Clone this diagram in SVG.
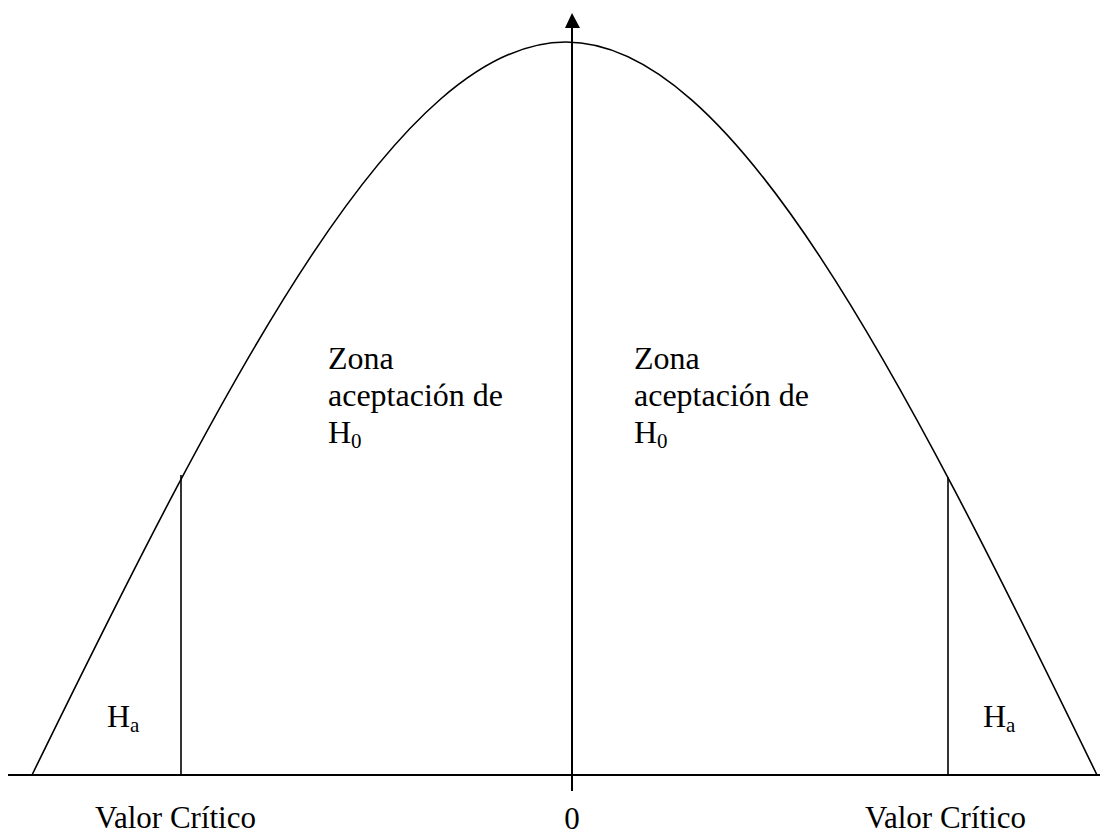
<svg xmlns="http://www.w3.org/2000/svg" width="1107" height="834" viewBox="0 0 1107 834">
<style>
.ln{stroke:#000;fill:none;stroke-width:1.6}
.ax{stroke:#000;fill:none;stroke-width:2}
.t{font-family:"Liberation Serif","Times New Roman",serif;font-size:32px;fill:#000}
.v{font-family:"Liberation Serif","Times New Roman",serif;font-size:31px;fill:#000}
.s{font-size:21px}
</style>
<rect width="1107" height="834" fill="#fff"/>
<g id="connectors">
<path id="curve" class="ln" d="M32,775 C232,366 400,42 566,42 C732,42 900,370 1097,775"/>
<line class="ax" x1="8" y1="775" x2="1100" y2="775"/>
<line class="ax" x1="572" y1="791" x2="572" y2="26"/>
<polygon points="572,13 565,28 580,28" fill="#000"/>
<line class="ln" x1="181" y1="475" x2="181" y2="775"/>
<line class="ln" x1="948" y1="477" x2="948" y2="775"/>
</g>
<g id="zona-left">
<text class="t" x="328" y="369">Zona</text>
<text class="t" x="328" y="406">aceptación de</text>
<text class="t" x="328" y="443">H<tspan class="s" dy="5">0</tspan></text>
</g>
<g id="zona-right">
<text class="t" x="634" y="369">Zona</text>
<text class="t" x="634" y="406">aceptación de</text>
<text class="t" x="634" y="443">H<tspan class="s" dy="5">0</tspan></text>
</g>
<g id="ha-left"><text class="t" x="107" y="727">H<tspan class="s" dy="5">a</tspan></text></g>
<g id="ha-right"><text class="t" x="983" y="727">H<tspan class="s" dy="5">a</tspan></text></g>
<g id="labels">
<text class="v" x="95" y="828">Valor Crítico</text>
<text class="v" x="865" y="828">Valor Crítico</text>
<text class="v" x="572" y="829" text-anchor="middle">0</text>
</g>
</svg>
